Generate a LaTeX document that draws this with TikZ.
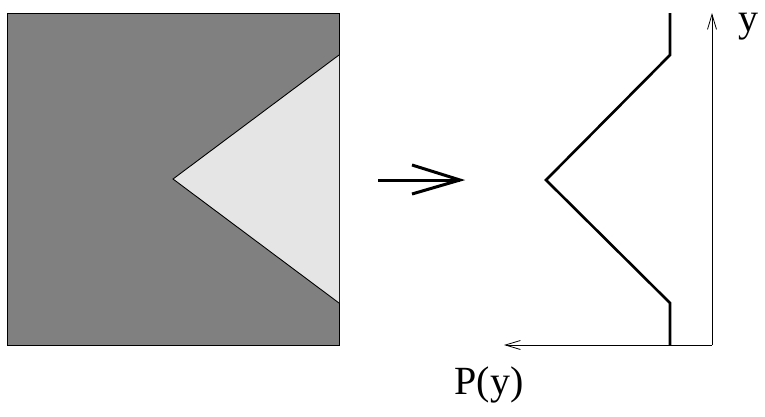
\documentclass[tikz,border=0pt]{standalone}
\usepackage{fontspec}
\setmainfont{Liberation Serif}
\usetikzlibrary{arrows.meta}
\tikzset{
  thinline/.style={line width=0.9pt},
  thickline/.style={line width=2.6pt},
  axisline/.style={line width=0.8pt, -{Straight Barb[length=15pt,width=9pt,line width=0.8pt]}},
  lbl/.style={font=\fontsize{40}{42}\selectfont, inner sep=0pt}
}
\begin{document}
\begin{tikzpicture}[x=1pt,y=-1pt]
\useasboundingbox (0,0) rectangle (765,416);
% square
\draw[thinline, fill={rgb,255:red,128;green,128;blue,128}] (7,13) rectangle (339,345);
\draw[thinline, fill={rgb,255:red,229;green,229;blue,229}] (339,55) -- (173,179) -- (339,303);
% implication arrow
\coordinate (a1) at (378,180);
\coordinate (a2) at (460,180);
\draw[line width=3pt] (a1) -- (a2);
\draw[line width=3pt, line join=miter] (412,165) -- (a2) -- (412,194);
% profile
\draw[thickline, line join=miter] (670,13) -- (670,55) -- (546,180) -- (670,303) -- (670,345);
% axes
\coordinate (o) at (712,345);
\coordinate (ytop) at (712,13);
\coordinate (xend) at (504,345);
\draw[axisline] (o) -- (ytop);
\draw[axisline] (o) -- (xend);
\node[lbl, anchor=base] (ylab) at (748,31) {y};
\node[lbl, anchor=base] (plab) at (489,394) {P(y)};
\end{tikzpicture}
\end{document}
